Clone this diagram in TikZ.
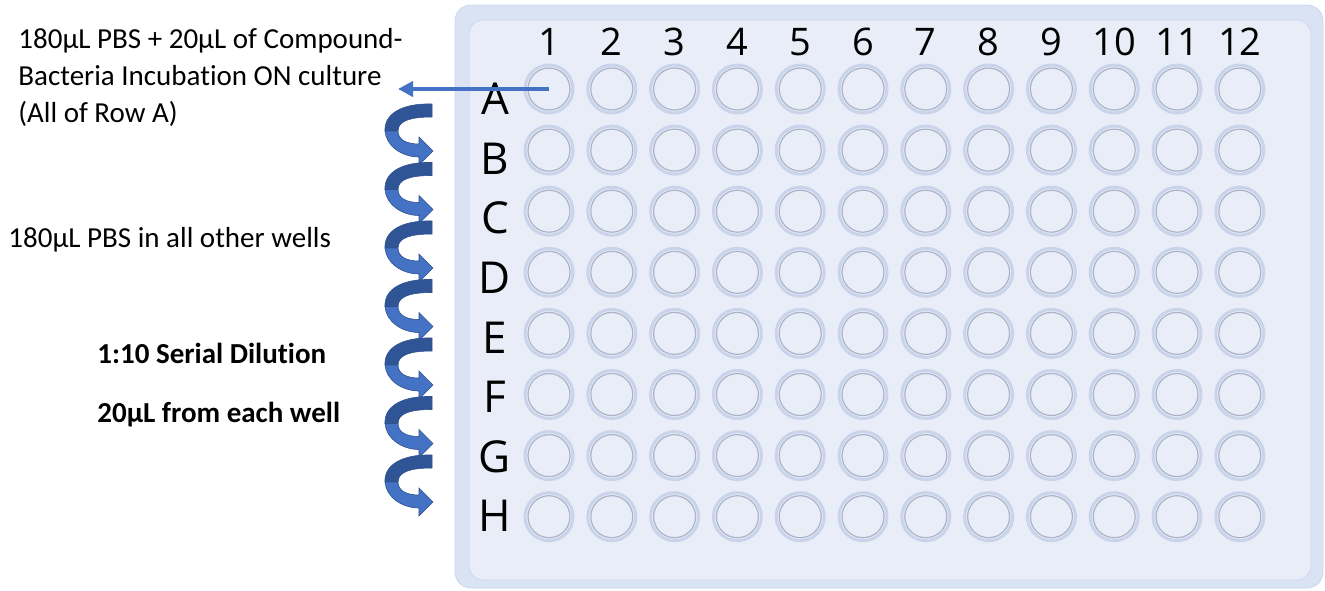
\documentclass[tikz,border=0pt]{standalone}
\usepackage{fontspec}
\setmainfont{Carlito}[Ligatures=NoCommon]
\newfontfamily\platefont{Open Sans}
\usetikzlibrary{arrows.meta}
\definecolor{plateout}{HTML}{DAE3F3}
\definecolor{platein}{HTML}{E9EDF8}
\definecolor{plateline}{HTML}{CDD7EC}
\definecolor{ringcol}{HTML}{C9D4EA}
\definecolor{wellline}{HTML}{ABB3C6}
\definecolor{arrlight}{HTML}{4472C4}
\definecolor{arrdark}{HTML}{2F5597}
\definecolor{arredge}{HTML}{2F528F}
\begin{document}
\begin{tikzpicture}[x=0.5pt,y=-0.5pt,
    well/.style={circle,draw=ringcol,line width=1.5pt,fill=platein,minimum size=24pt,inner sep=0pt},
    rowlbl/.style={font=\platefont\fontsize{22}{22}\selectfont,inner sep=0pt},
    collbl/.style={font=\platefont\fontsize{19}{19}\selectfont,inner sep=0pt},
    note/.style={font=\fontsize{14.5}{18.5}\selectfont,inner sep=0pt,anchor=base west},
    boldnote/.style={note,font=\bfseries\fontsize{14.5}{18.5}\selectfont},
    dilarrow/.pic={
        \filldraw[fill=arrdark,draw=arredge,line width=0.3pt] (0,0) .. controls (-30,-1) and (-48,10) .. (-47,27)
            -- (-34,27) .. controls (-34,17) and (-22,13) .. (0,13) -- cycle;
        \filldraw[fill=arrlight,draw=arredge,line width=0.3pt] (-47,27) .. controls (-46,42) and (-30,53) .. (-13,53)
            -- (-13,61) -- (1,47) -- (-13,33) -- (-13,40) .. controls (-25,40) and (-34,36) .. (-34,27) -- cycle;
    }]
    \useasboundingbox (0,0) rectangle (1325,590);
    % Plate
    \draw[plateline,fill=plateout,rounded corners=8pt] (455,5) rectangle (1323,588);
    \draw[plateline,fill=platein,rounded corners=7pt] (469,20) rectangle (1311,580);
    % Column numbers
    \foreach \c in {1,...,12}
        \node[collbl] (c-\c) at ({549+(\c-1)*62.8},42) {\c};
    % Rows of wells
    \foreach \r [count=\i from 0] in {A,B,C,D,E,F,G,H} {
        \node[rowlbl] (r-\r) at (495,{99+\i*59.6}) {\r};
        \foreach \c in {1,...,12} {
            \node[well] (w-\r\c) at ({549+(\c-1)*62.8},{89+\i*61.1}) {};
            \draw[wellline,line width=0.6pt] (w-\r\c.center) circle[radius=10.5pt];
        }
    }
    % Notes
    \node[note,anchor=north west,align=left] (rowA) at (18,28)
        {180µL PBS + 20µL of Compound-\\Bacteria Incubation ON culture\\(All of Row A)};
    \node[note] (others) at (8,247) {180µL PBS in all other wells};
    \node[boldnote] (serial) at (97,363) {1:10 Serial Dilution};
    \node[boldnote] (each) at (97,422) {20µL from each well};
    % Arrow from row A
    \coordinate (tipA) at (398,89);
    \draw[arrlight,line width=2.4pt,-{Triangle[length=7.5pt,width=7.5pt]}] (w-A1.center) -- (tipA);
    % Serial dilution arrows
    \foreach \k in {0,...,6}
        \pic at (432,{104+\k*58.5}) {dilarrow};
\end{tikzpicture}
\end{document}
